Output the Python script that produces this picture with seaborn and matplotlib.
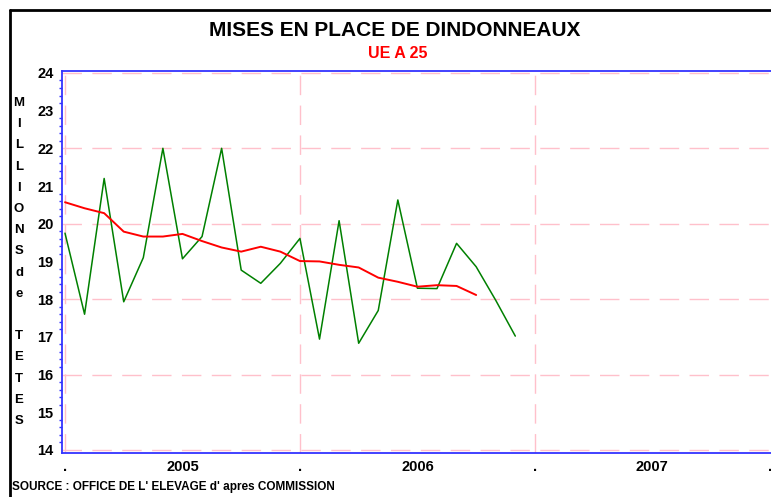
import numpy as np
import pandas as pd
import matplotlib
matplotlib.use("Agg")
import matplotlib.pyplot as plt
import seaborn as sns
from matplotlib.lines import Line2D
from matplotlib.ticker import MultipleLocator

# monthly placings, jan 2005 -> dec 2006 (millions of head)
mises = [19.75, 17.6, 21.2, 17.93, 19.1, 22.0, 19.07, 19.66, 22.0, 18.77, 18.42, 18.95,
         19.61, 16.94, 20.08, 16.83, 17.7, 20.63, 18.29, 18.28, 19.48, 18.86, 17.97, 17.02]
# 12-month moving average (red)
moyenne = [20.57, 20.41, 20.28, 19.79, 19.66, 19.66, 19.73, 19.54, 19.37, 19.26, 19.39,
           19.26, 19.01, 19.0, 18.91, 18.84, 18.57, 18.46, 18.33, 18.37, 18.35, 18.11]

tick_pos = [0, 6, 12, 18, 24, 30, 36]
tick_labels = [".", "2005", ".", "2006", ".", "2007", "."]

df_m = pd.DataFrame({"mois": np.arange(len(mises)), "val": mises})
df_a = pd.DataFrame({"mois": np.arange(len(moyenne)), "val": moyenne})

sns.set_style("white")
plt.rcParams['font.family'] = ['Liberation Sans', 'DejaVu Sans']
plt.rcParams['text.color'] = 'black'
plt.rcParams['xtick.labelcolor'] = 'black'
plt.rcParams['ytick.labelcolor'] = 'black'

fig = plt.figure(figsize=(7.71, 4.97), dpi=100)
ax = fig.add_axes([62 / 771, 1 - 453 / 497, 1 - 62 / 771, (453 - 71) / 497])

sns.lineplot(data=df_m, x="mois", y="val", ax=ax, color="#008000", linewidth=1.1)
sns.lineplot(data=df_a, x="mois", y="val", ax=ax, color="#ff0000", linewidth=1.4)

ax.set_xlim(-0.153, 36.06)
ax.set_ylim(13.92, 24.05)

blue = "#3333ff"
for s in ["left", "top", "bottom"]:
    ax.spines[s].set_color(blue)
    ax.spines[s].set_linewidth(1.3)
ax.spines["right"].set_visible(False)

# grid: horizontal every 2, vertical at year boundaries
grid_kw = dict(color="#ffc0cb", linewidth=1.0, dashes=(14, 7.5), zorder=0)
for y in range(14, 25, 2):
    ax.axhline(y, **grid_kw)
for x in [0, 12, 24]:
    ax.axvline(x, **grid_kw)

ax.yaxis.set_major_locator(MultipleLocator(1))
ax.yaxis.set_minor_locator(MultipleLocator(0.2))
ax.tick_params(axis="y", which="major", direction="out", length=4, width=1, color=blue,
               labelsize=10.5, pad=2)
ax.tick_params(axis="y", which="minor", direction="out", length=2, width=1, color=blue, left=True)
for lab in ax.get_yticklabels():
    lab.set_fontweight("bold")

ax.set_xticks(tick_pos)
ax.set_xticklabels(tick_labels, fontweight="bold", fontsize=10.5)
ax.tick_params(axis="x", direction="inout", length=6, width=1, color=blue, pad=2)
ax.set_xlabel("")
ax.set_ylabel("")

fig.text(395 / 771, 1 - 30 / 497, "MISES EN PLACE DE DINDONNEAUX", ha="center", va="center",
         fontsize=15, fontweight="bold")
fig.text(398 / 771, 1 - 53 / 497, "UE A 25", ha="center", va="center",
         fontsize=11.5, fontweight="bold", color="#ff0000")

# vertical stacked y label
letters = "MILLIONSde TETES"
for i, ch in enumerate(letters):
    if ch != " ":
        fig.text(19 / 771, 1 - (103 + i * 21.2) / 497, ch, ha="center", va="center",
                 fontsize=9.5, fontweight="bold")

fig.text(12 / 771, 1 - 487 / 497, "SOURCE : OFFICE DE L' ELEVAGE d' apres COMMISSION",
         ha="left", va="center", fontsize=8.5, fontweight="bold")

# outer frame (left and top)
fig.add_artist(Line2D([10 / 771, 10 / 771], [0, 1 - 10 / 497], transform=fig.transFigure,
                      color="black", linewidth=2))
fig.add_artist(Line2D([10 / 771, 1], [1 - 10 / 497, 1 - 10 / 497], transform=fig.transFigure,
                      color="black", linewidth=2))

fig.savefig("out.png", dpi=100)
